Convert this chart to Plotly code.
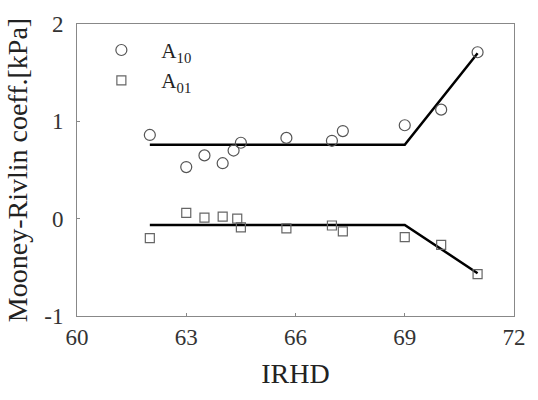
import plotly.graph_objects as go

# A10 data (circles)
irhd_a10 = [62.0, 63.0, 63.5, 64.0, 64.3, 64.5, 65.75, 67.0, 67.3, 69.0, 70.0, 71.0]
a10 = [0.86, 0.53, 0.65, 0.57, 0.70, 0.78, 0.83, 0.80, 0.90, 0.96, 1.12, 1.71]
# A01 data (squares)
irhd_a01 = [62.0, 63.0, 63.5, 64.0, 64.4, 64.5, 65.75, 67.0, 67.3, 69.0, 70.0, 71.0]
a01 = [-0.20, 0.06, 0.01, 0.02, 0.0, -0.09, -0.10, -0.07, -0.13, -0.19, -0.27, -0.57]
# fitted bilinear lines
fit_x = [62.0, 69.0, 71.0]
fit_a10 = [0.76, 0.76, 1.70]
fit_a01 = [-0.065, -0.065, -0.56]

xticks = [60, 63, 66, 69, 72]
yticks = [-1, 0, 1, 2]
yticklabels = ["-1", "0", "1", "2"]

serif = "Liberation Serif, Times New Roman, serif"
fig = go.Figure()
fig.add_trace(go.Scatter(x=fit_x, y=fit_a10, mode="lines", line=dict(color="black", width=2.5), showlegend=False))
fig.add_trace(go.Scatter(x=fit_x, y=fit_a01, mode="lines", line=dict(color="black", width=2.5), showlegend=False))
fig.add_trace(go.Scatter(x=irhd_a10, y=a10, mode="markers", name="A<sub>10</sub>",
                         marker=dict(symbol="circle-open", size=11, color="#555", line=dict(width=1.2))))
fig.add_trace(go.Scatter(x=irhd_a01, y=a01, mode="markers", name="A<sub>01</sub>",
                         marker=dict(symbol="square-open", size=9, color="#666", line=dict(width=1.2))))

fig.update_layout(
    width=538, height=400,
    margin=dict(l=77, r=12, t=15, b=84),
    paper_bgcolor="white", plot_bgcolor="white",
    font=dict(family=serif, size=20, color="#222"),
    showlegend=True,
    legend=dict(x=0.01, y=0.98, xanchor="left", yanchor="top", bgcolor="rgba(0,0,0,0)",
                font=dict(family=serif, size=21, color="#222"), itemwidth=70, tracegroupgap=0),
    xaxis=dict(range=[60, 72], tickvals=xticks, ticks="inside", ticklen=3, tickcolor="#888",
               showline=True, linecolor="#888", linewidth=1, mirror=True, showgrid=False, zeroline=False,
               title=dict(text="IRHD", font=dict(size=28, family=serif, color="#222"), standoff=14),
               tickfont=dict(size=23, family=serif, color="#333")),
    yaxis=dict(range=[-1, 2], tickvals=yticks, ticktext=yticklabels, ticks="inside", ticklen=3, tickcolor="#888",
               showline=True, linecolor="#888", linewidth=1, mirror=True, showgrid=False, zeroline=False,
               ticklabelstandoff=8,
               title=dict(text="Mooney-Rivlin coeff.[kPa]", font=dict(size=28, family=serif, color="#222"), standoff=8),
               tickfont=dict(size=23, family=serif, color="#333")),
)
fig.write_html("out.html")
